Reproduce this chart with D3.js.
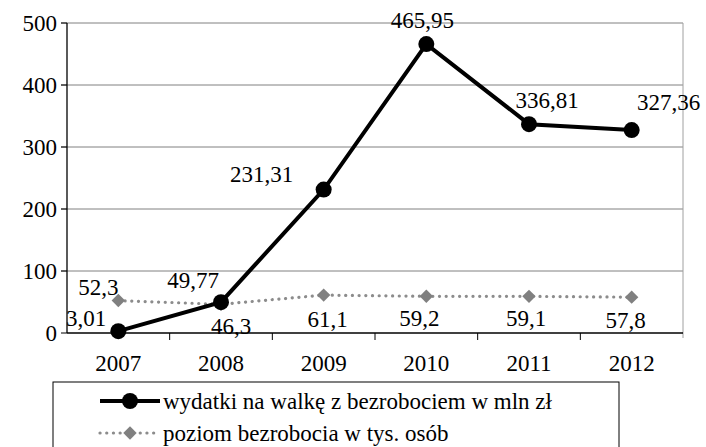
<!DOCTYPE html>
<html>
<head>
<meta charset="utf-8">
<script src="https://cdn.jsdelivr.net/npm/d3@7"></script>
<style> body { margin: 0; background: #fff; } </style>
</head>
<body>
<svg id="chart" width="706" height="447"></svg>
<script>
// data
var years = ["2007", "2008", "2009", "2010", "2011", "2012"];
var wydatki = [3.01, 49.77, 231.31, 465.95, 336.81, 327.36];
var bezrobocie = [52.3, 46.3, 61.1, 59.2, 59.1, 57.8];
var yTicks = [0, 100, 200, 300, 400, 500];
var seriesNames = ["wydatki na walkę z bezrobociem w mln zł", "poziom bezrobocia w tys. osób"];

var margin = { top: 23, left: 67, right: 23, bottom: 114 };
var width = 706 - margin.left - margin.right,
    height = 447 - margin.top - margin.bottom;

var root = d3.select("#chart");
var svg = root.append("g")
  .attr("transform", "translate(" + margin.left + "," + margin.top + ")");

var x = d3.scaleBand().domain(years).range([0, width]);
var y = d3.scaleLinear().domain([0, 500]).range([height, 0]);
var cx = function (i) { return x(years[i]) + x.bandwidth() / 2; };

function label(sel) {
  return sel.style("font-family", "Times New Roman").style("font-size", "23px").attr("fill", "#000");
}

// gridlines
svg.selectAll(".grid").data(yTicks.slice(1)).enter().append("line")
  .attr("x1", -6).attr("x2", width)
  .attr("y1", function (d) { return y(d); }).attr("y2", function (d) { return y(d); })
  .attr("stroke", "#808080").attr("stroke-width", 1);

// right border
svg.append("line").attr("x1", width).attr("x2", width).attr("y1", 0).attr("y2", height + 5)
  .attr("stroke", "#a0a0a0");

// y axis, drawn by hand from the scale
svg.append("line").attr("x1", 0).attr("x2", 0).attr("y1", 0).attr("y2", height)
  .attr("stroke", "#000").attr("stroke-width", 1.3);
svg.selectAll(".ytick").data(yTicks).enter().append("line")
  .attr("x1", -6).attr("x2", 0)
  .attr("y1", function (d) { return y(d); }).attr("y2", function (d) { return y(d); })
  .attr("stroke", "#000");
svg.selectAll(".ylbl").data(yTicks).enter().append("text")
  .attr("x", -10).attr("y", function (d) { return y(d) + 8; })
  .attr("text-anchor", "end").text(function (d) { return d; })
  .call(label);

// x axis: ticks on category boundaries
var xAxisG = svg.append("g").attr("transform", "translate(0," + height + ")");
xAxisG.append("line").attr("x1", 0).attr("x2", width).attr("stroke", "#000").attr("stroke-width", 1.3);
xAxisG.selectAll(".bt").data(years.slice(1)).enter().append("line")
  .attr("x1", function (d) { return x(d); }).attr("x2", function (d) { return x(d); })
  .attr("y1", 0).attr("y2", 7).attr("stroke", "#000");
xAxisG.selectAll(".lbl").data(years).enter().append("text")
  .attr("x", function (d) { return x(d) + x.bandwidth() / 2; })
  .attr("y", 38).attr("text-anchor", "middle")
  .text(function (d) { return d; })
  .call(label);

// series 2: dotted gray with diamonds
var line = d3.line().x(function (d, i) { return cx(i); }).y(function (d) { return y(d); });
svg.append("path").datum(bezrobocie).attr("d", line)
  .attr("fill", "none").attr("stroke", "#8c8c8c").attr("stroke-width", 3.2)
  .attr("stroke-dasharray", "0.1 6.6").attr("stroke-linecap", "round");
var diamond = d3.symbol().type(d3.symbolSquare).size(90);
svg.selectAll(".dia").data(bezrobocie).enter().append("path")
  .attr("d", diamond)
  .attr("transform", function (d, i) { return "translate(" + cx(i) + "," + y(d) + ") rotate(45)"; })
  .attr("fill", "#808080");

// series 1: black line with circles
svg.append("path").datum(wydatki).attr("d", line)
  .attr("fill", "none").attr("stroke", "#000").attr("stroke-width", 4);
svg.selectAll(".dot").data(wydatki).enter().append("circle")
  .attr("cx", function (d, i) { return cx(i); })
  .attr("cy", function (d) { return y(d); })
  .attr("r", 8).attr("fill", "#000");

var fmt = function (v) { return String(v).replace(".", ","); };

// data labels, offsets relative to the point
var w1Off = [[-12, -5, "end"], [-28, -14, "middle"], [-62, -8, "middle"], [-4, -16, "middle"], [18, -16, "middle"], [37, -20, "middle"]];
var b2Off = [[-20, -6, "middle"], [10, 30, "middle"], [4, 32, "middle"], [-7, 30, "middle"], [-3, 30, "middle"], [-6, 31, "middle"]];

svg.selectAll(".l1").data(wydatki).enter().append("text")
  .attr("x", function (d, i) { return cx(i) + w1Off[i][0]; })
  .attr("y", function (d, i) { return y(d) + w1Off[i][1]; })
  .attr("text-anchor", function (d, i) { return w1Off[i][2]; })
  .text(fmt).call(label);

svg.selectAll(".l2").data(bezrobocie).enter().append("text")
  .attr("x", function (d, i) { return cx(i) + b2Off[i][0]; })
  .attr("y", function (d, i) { return y(d) + b2Off[i][1]; })
  .attr("text-anchor", function (d, i) { return b2Off[i][2]; })
  .text(fmt).call(label);

// legend
var lg = root.append("g").attr("transform", "translate(53,382)");
lg.append("rect").attr("x", 0).attr("y", 0).attr("width", 566).attr("height", 80)
  .attr("fill", "#fff").attr("stroke", "#000").attr("stroke-width", 1);
lg.append("line").attr("x1", 47).attr("x2", 107).attr("y1", 19).attr("y2", 19)
  .attr("stroke", "#000").attr("stroke-width", 4);
lg.append("circle").attr("cx", 77).attr("cy", 19).attr("r", 8).attr("fill", "#000");
lg.append("text").attr("x", 110).attr("y", 27).text(seriesNames[0]).call(label);
lg.append("path").attr("d", "M47,51H107")
  .attr("stroke", "#8c8c8c").attr("stroke-width", 3.2)
  .attr("stroke-dasharray", "0.1 6.6").attr("stroke-linecap", "round");
lg.append("path").attr("d", diamond).attr("transform", "translate(77,51) rotate(45)").attr("fill", "#808080");
lg.append("text").attr("x", 110).attr("y", 59).text(seriesNames[1]).call(label);
</script>
</body>
</html>
